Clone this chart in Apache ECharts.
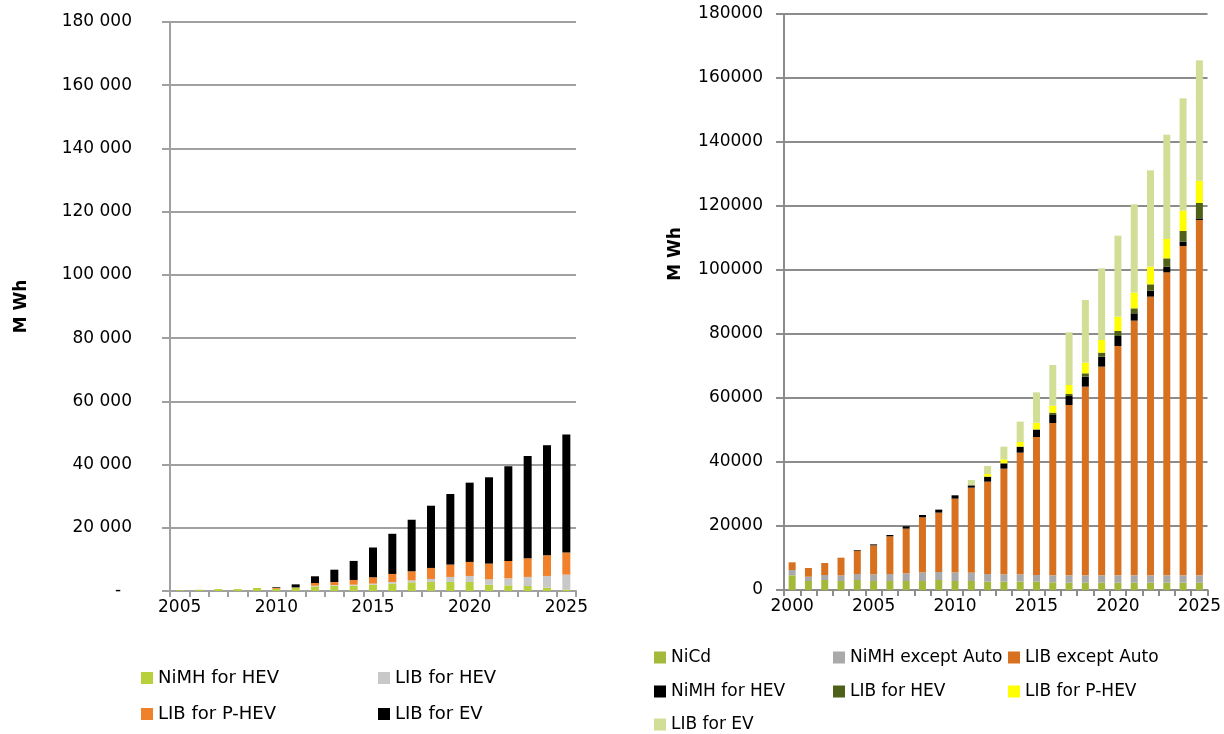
<!DOCTYPE html>
<html>
<head>
    <meta charset="utf-8" />
    <title>Battery demand</title>
    <script src="https://cdn.jsdelivr.net/npm/echarts@6/dist/echarts.min.js"></script>
    <style>
        body { margin: 0; background: #fff; }
        #leftChart { position: absolute; left: 0; top: 0; width: 612px; height: 734px; }
        #rightChart { position: absolute; left: 612px; top: 0; width: 612px; height: 734px; }
    </style>
</head>
<body>
    <div id="leftChart"></div>
    <div id="rightChart"></div>
    <script type="text/javascript">
        // left chart: automotive only, 2005-2025
        var yearsL = [2005, 2006, 2007, 2008, 2009, 2010, 2011, 2012, 2013, 2014, 2015,
                      2016, 2017, 2018, 2019, 2020, 2021, 2022, 2023, 2024, 2025];
        var nimhHevL = [200, 400, 600, 600, 950, 700, 1000, 1480, 1690, 1690, 2010,
                        2330, 2750, 2860, 2860, 2860, 2010, 1800, 1590, 1060, 420];
        var libHevL = [0, 0, 0, 0, 0, 0, 0, 200, 200, 320, 320,
                       530, 630, 950, 1590, 1900, 1690, 2220, 2860, 3700, 4760];
        var libPhevL = [0, 0, 0, 0, 0, 350, 150, 850, 950, 1480, 2010,
                        2540, 2860, 3490, 3910, 4440, 4970, 5500, 5920, 6560, 6980];
        var libEvL = [0, 0, 0, 0, 0, 200, 950, 2120, 3900, 6030, 9420,
                      12700, 16300, 19680, 22320, 25070, 27300, 29940, 32370, 34800, 37350];

        // right chart: all batteries, 2000-2025
        var yearsR = [2000, 2001, 2002, 2003, 2004, 2005, 2006, 2007, 2008, 2009, 2010, 2011, 2012,
                      2013, 2014, 2015, 2016, 2017, 2018, 2019, 2020, 2021, 2022, 2023, 2024, 2025];
        var nicd = [4580, 2810, 3130, 2810, 3130, 2810, 2810, 2810, 2810, 3130, 2810, 2810, 2600,
                    2600, 2600, 2600, 2400, 2290, 2290, 2290, 2290, 2290, 2290, 2290, 2290, 2290];
        var nimhExcept = [1670, 1350, 1560, 1770, 1880, 2080, 2190, 2400, 2710, 2500, 2710, 2600, 2400,
                          2290, 2290, 2080, 2190, 2290, 2290, 2290, 2290, 2290, 2290, 2290, 2290, 2290];
        var libExcept = [2400, 2710, 3750, 5520, 7290, 9060, 11770, 13960, 17190, 18550, 23030, 26570, 28860,
                         33030, 38030, 43130, 47600, 53230, 58960, 65210, 71670, 79590, 87090, 94690, 102920, 111040];
        var nimhHevR = [0, 0, 0, 0, 200, 310, 420, 730, 730, 940, 1040, 730, 1560,
                        1670, 1880, 2190, 2710, 2810, 3130, 3130, 3130, 2290, 1870, 1770, 1350, 520];
        var libHevR = [0, 0, 0, 0, 0, 0, 0, 0, 0, 0, 0, 0, 0,
                       0, 0, 200, 520, 625, 1040, 1250, 1560, 1560, 1980, 2600, 3340, 4790];
        var libPhevR = [0, 0, 0, 0, 0, 0, 0, 0, 0, 0, 0, 0, 830,
                        1250, 1460, 2080, 2190, 2810, 3330, 3950, 4480, 4900, 5520, 6040, 6350, 6970];
        var libEvR = [0, 0, 0, 0, 0, 0, 0, 0, 0, 0, 0, 1670, 2500,
                      3960, 6360, 9480, 12710, 16470, 19590, 22400, 25310, 27600, 30100, 32600, 35100, 37600];

        var FONT = 'DejaVu Sans';

        function xAxisOpt(years, gray) {
            return {
                type: 'category',
                data: years,
                axisLine: { lineStyle: { color: gray, width: 2 } },
                axisTick: { show: true, interval: 0, length: 6, lineStyle: { color: gray, width: 2 } },
                axisLabel: { interval: 4, margin: 8, color: '#000', fontFamily: FONT, fontSize: 17 }
            };
        }
        function yAxisOpt(margin, fmt, nameGap, namePad, gray) {
            return {
                type: 'value',
                min: 0, max: 180000, interval: 20000,
                name: 'M Wh',
                nameLocation: 'middle',
                nameRotate: 90,
                nameGap: nameGap,
                nameTextStyle: { fontFamily: FONT, fontSize: 17, fontWeight: 'bold', color: '#000', padding: namePad },
                axisLine: { show: true, lineStyle: { color: gray, width: 2 } },
                axisTick: { show: true, length: 8, lineStyle: { color: gray, width: 2 } },
                splitLine: { show: true, lineStyle: { color: gray, width: 2 } },
                axisLabel: { margin: margin, color: '#000', fontFamily: FONT, fontSize: 17, formatter: fmt }
            };
        }
        function barSeries(name, data, color, w) {
            return { name: name, type: 'bar', stack: 'total', barWidth: w, data: data,
                     itemStyle: { color: color } };
        }
        function legendAt(name, x, y, size) {
            return {
                data: [name], left: x, top: y, padding: 0,
                icon: 'rect', itemWidth: 12, itemHeight: 12, itemGap: 0,
                selectedMode: false,
                textStyle: { fontFamily: FONT, fontSize: size, color: '#000' }
            };
        }

        var leftChart = echarts.init(document.getElementById('leftChart'));
        var rightChart = echarts.init(document.getElementById('rightChart'));

        var leftOption = {
            animation: false,
            grid: { left: 170, right: 36, top: 22, bottom: 143 },
            xAxis: xAxisOpt(yearsL, '#a0a0a0'),
            yAxis: yAxisOpt(38, function (v) {
                if (v === 0) return '-  ';
                return String(v).replace(/\B(?=(\d{3})+(?!\d))/g, ' ');
            }, 140, 0, '#a0a0a0'),
            legend: [
                legendAt('NiMH for HEV', 141, 669, 18),
                legendAt('LIB for HEV', 378, 669, 18),
                legendAt('LIB for P-HEV', 141, 705, 18),
                legendAt('LIB for EV', 378, 705, 18)
            ],
            series: [
                barSeries('NiMH for HEV', nimhHevL, '#b7d03c', 8),
                barSeries('LIB for HEV', libHevL, '#c8c8c8', 8),
                barSeries('LIB for P-HEV', libPhevL, '#f0802a', 8),
                barSeries('LIB for EV', libEvL, '#000000', 8)
            ]
        };

        var rightOption = {
            animation: false,
            grid: { left: 172, right: 16, top: 14, bottom: 144 },
            xAxis: xAxisOpt(yearsR, '#8c8c8c'),
            yAxis: yAxisOpt(21, function (v) { return String(v); }, 100, [0, 0, 0, 96], '#8c8c8c'),
            legend: [
                legendAt('NiCd', 42, 649, 17),
                legendAt('NiMH except Auto', 221, 649, 17),
                legendAt('LIB except Auto', 396, 649, 17),
                legendAt('NiMH for HEV', 42, 683, 17),
                legendAt('LIB for HEV', 221, 683, 17),
                legendAt('LIB for P-HEV', 396, 683, 17),
                legendAt('LIB for EV', 42, 716, 17)
            ],
            series: [
                barSeries('NiCd', nicd, '#a2b93a', 7),
                barSeries('NiMH except Auto', nimhExcept, '#a9a9a9', 7),
                barSeries('LIB except Auto', libExcept, '#d7711f', 7),
                barSeries('NiMH for HEV', nimhHevR, '#000000', 7),
                barSeries('LIB for HEV', libHevR, '#4f6018', 7),
                barSeries('LIB for P-HEV', libPhevR, '#ffff00', 7),
                barSeries('LIB for EV', libEvR, '#d1de95', 7)
            ]
        };

        leftChart.setOption(leftOption, true);
        rightChart.setOption(rightOption, true);
    </script>
</body>
</html>
